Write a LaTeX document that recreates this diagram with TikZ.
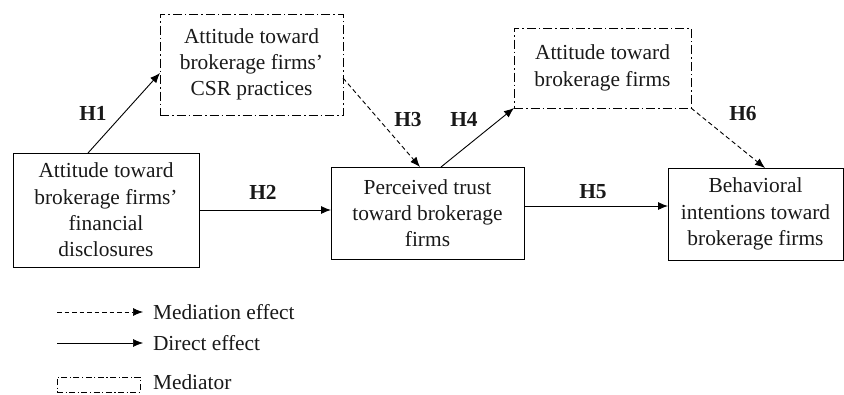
\documentclass[tikz,border=0pt]{standalone}
\usepackage{fontspec}
\setmainfont{Liberation Serif}
\usetikzlibrary{arrows.meta,calc}
\begin{document}
\begin{tikzpicture}[x=1pt,y=-1pt,
  font=\fontsize{21.4}{26.3}\selectfont,
  every node/.style={inner sep=0pt,outer sep=0pt,text=black!90},
  solidbox/.style={draw,line width=0.9pt,align=center},
  medbox/.style={draw,line width=0.9pt,align=center,dash pattern=on 9pt off 3pt on 1.5pt off 3pt},
  direct/.style={line width=0.9pt,-{Latex[length=10pt,width=8pt]}},
  mediation/.style={line width=0.9pt,dash pattern=on 4.5pt off 3pt,-{Latex[length=10pt,width=8pt]}},
  hyp/.style={font=\fontsize{21.4}{26.3}\selectfont\bfseries}
]
\useasboundingbox (0,0) rectangle (844,394);
% boxes
\node[solidbox,minimum width=186pt,minimum height=114pt] (A) at (106,210) {Attitude toward\\brokerage firms'\\financial\\disclosures};
\node[medbox,minimum width=183pt,minimum height=101pt] (CSR) at (251.5,64.5) {Attitude toward\\brokerage firms'\\CSR practices};
\node[solidbox,minimum width=193pt,minimum height=92pt] (P) at (427.5,213) {Perceived trust\\toward brokerage\\firms};
\node[medbox,minimum width=177pt,minimum height=80pt] (T) at (602.5,68) {Attitude toward\\brokerage firms};
\node[solidbox,minimum width=175pt,minimum height=92pt] (B) at (755.5,214) {Behavioral\\intentions toward\\brokerage firms};
% connectors
\draw[direct] ([xshift=-18pt]A.north) -- ([yshift=-8.5pt]CSR.west);
\draw[direct] (A.east) -- (A.east -| P.west);
\draw[mediation] ([yshift=-13.5pt]CSR.east) -- ([xshift=-7.5pt]P.north);
\draw[direct] ([xshift=13.5pt]P.north) -- (T.south west);
\draw[direct] ([yshift=7pt]P.east) -- ([yshift=7pt]P.east -| B.west);
\draw[mediation] (T.south east) -- ([xshift=9.5pt]B.north);
% labels
\node[hyp] (h1) at (93,113) {H1};
\node[hyp] (h2) at (263,192) {H2};
\node[hyp] (h3) at (408,120) {H3};
\node[hyp] (h4) at (464,119) {H4};
\node[hyp] (h5) at (593,192) {H5};
\node[hyp] (h6) at (743,114) {H6};
% legend
\coordinate (m1) at (57,312);
\coordinate (m2) at (143,312);
\coordinate (d1) at (57,343);
\coordinate (d2) at (143,343);
\draw[mediation,line width=0.7pt] (m1) -- (m2);
\draw[direct,line width=0.6pt] (d1) -- (d2);
\node[anchor=west] (lm) at (153,312) {Mediation effect};
\node[anchor=west] (ld) at (153,343) {Direct effect};
\node[medbox,line width=0.7pt,dash pattern=on 6pt off 2.5pt on 1.2pt off 2.5pt,minimum width=83pt,minimum height=15pt] (lbox) at (98.5,384.5) {};
\node[anchor=west] (lx) at (153,382) {Mediator};
\end{tikzpicture}
\end{document}
